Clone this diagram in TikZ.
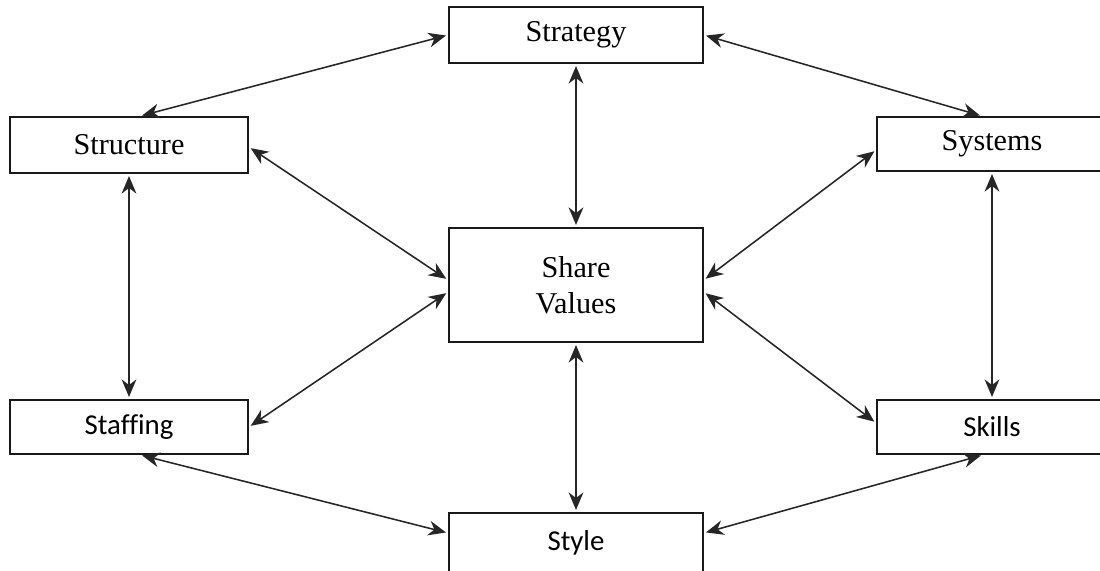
\documentclass[tikz,border=0pt]{standalone}
\usepackage{fontspec}
\setmainfont{Liberation Serif}
\newfontfamily\calib[Ligatures=NoCommon]{Carlito}
\usetikzlibrary{arrows.meta}

\tikzset{
    box/.style={draw=black!90, line width=1.3pt, rectangle, inner sep=0pt,
        align=center, font=\fontsize{21.5}{25.5}\selectfont},
    sbox/.style={box, font=\calib\fontsize{20.5}{24}\selectfont},
    link/.style={{Stealth[length=12.5pt,width=10.5pt,inset=4pt]}-{Stealth[length=12.5pt,width=10.5pt,inset=4pt]},
        line width=1.1pt, draw=black!85, shorten <=1.5pt, shorten >=1.5pt}
}

\begin{document}
\begin{tikzpicture}[x=0.025cm,y=-0.025cm]
    \useasboundingbox (0,0) rectangle (1100,571);

    % the seven boxes
    \node[box, minimum width=6.35cm, minimum height=1.4cm]  (strategy)  at (576,35)  {Strategy};
    \node[box, minimum width=5.95cm, minimum height=1.4cm]  (structure) at (129,145) {Structure};
    \node[box, minimum width=5.75cm, minimum height=1.35cm] (systems)   at (992,144) {Systems};
    \node[box, minimum width=6.35cm, minimum height=2.85cm] (share)     at (576,285) {Share\\Values};
    \node[sbox, minimum width=5.95cm, minimum height=1.35cm] (staffing) at (129,427) {Staffing};
    \node[sbox, minimum width=5.75cm, minimum height=1.35cm] (skills)   at (992,427) {Skills};
    \node[sbox, minimum width=6.35cm, minimum height=1.5cm]  (style)    at (576,543) {Style};

    % outer ring
    \draw[link] (strategy.west) -- ([xshift=0.275cm]structure.north);
    \draw[link] (strategy.east) -- ([xshift=-0.25cm]systems.north);
    \draw[link] (structure.south) -- (staffing.north);
    \draw[link] (systems.south) -- (skills.north);
    \draw[link] ([xshift=0.275cm]staffing.south) -- ([yshift=0.25cm]style.west);
    \draw[link] ([xshift=-0.225cm]skills.south) -- ([yshift=0.25cm]style.east);

    % spokes to the centre
    \draw[link] (strategy.south) -- (share.north);
    \draw[link] (share.south) -- (style.north);
    \draw[link] ([yshift=-0.05cm]structure.east) -- ([yshift=0.125cm]share.west);
    \draw[link] (staffing.east) -- ([yshift=-0.175cm]share.west);
    \draw[link] ([yshift=-0.15cm]systems.west) -- ([yshift=0.125cm]share.east);
    \draw[link] ([yshift=0.1cm]skills.west) -- ([yshift=-0.175cm]share.east);
\end{tikzpicture}
\end{document}
